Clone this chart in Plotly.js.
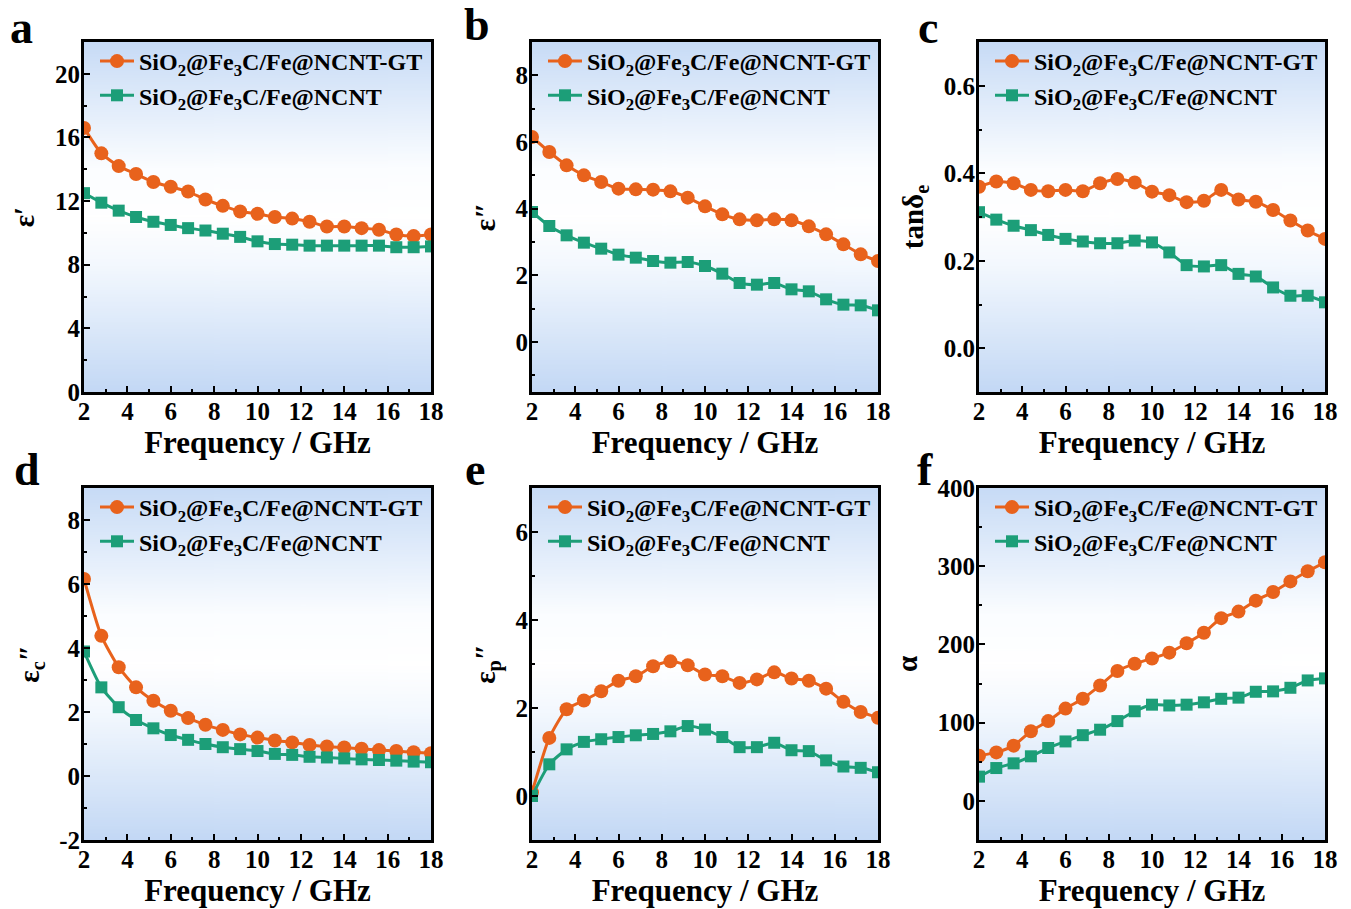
<!DOCTYPE html>
<html>
<head>
<meta charset="utf-8">
<script src="https://cdn.plot.ly/plotly-3.0.1.min.js"></script>
<style>html,body{margin:0;padding:0;background:#fff;}#chart{width:1351px;height:909px;}</style>
</head>
<body>
<div id="chart"></div>
<script>
// ---------------- data ----------------
const freq = [2, 2.8, 3.6, 4.4, 5.2, 6.0, 6.8, 7.6, 8.4, 9.2, 10.0, 10.8, 11.6, 12.4, 13.2, 14.0, 14.8, 15.6, 16.4, 17.2, 18];
const seriesNames = ['SiO<sub>2</sub>@Fe<sub>3</sub>C/Fe@NCNT-GT', 'SiO<sub>2</sub>@Fe<sub>3</sub>C/Fe@NCNT'];

const epsReal_GT = [16.6, 15.0, 14.2, 13.7, 13.2, 12.9, 12.6, 12.1, 11.7, 11.35, 11.2, 11.0, 10.9, 10.7, 10.4, 10.4, 10.3, 10.2, 9.9, 9.8, 9.9];
const epsReal_N  = [12.5, 11.9, 11.4, 11.0, 10.7, 10.5, 10.3, 10.15, 9.95, 9.75, 9.47, 9.3, 9.26, 9.2, 9.2, 9.2, 9.2, 9.2, 9.1, 9.1, 9.15];

const epsImag_GT = [6.15, 5.7, 5.3, 5.0, 4.8, 4.6, 4.58, 4.57, 4.52, 4.33, 4.07, 3.83, 3.68, 3.65, 3.68, 3.65, 3.47, 3.23, 2.93, 2.63, 2.43];
const epsImag_N  = [3.9, 3.48, 3.2, 2.98, 2.8, 2.62, 2.53, 2.43, 2.38, 2.4, 2.28, 2.05, 1.77, 1.72, 1.77, 1.58, 1.52, 1.28, 1.12, 1.1, 0.95];

const tanD_GT = [0.369, 0.381, 0.377, 0.362, 0.359, 0.362, 0.359, 0.377, 0.387, 0.379, 0.358, 0.350, 0.334, 0.337, 0.362, 0.340, 0.335, 0.316, 0.292, 0.269, 0.250];
const tanD_N  = [0.311, 0.294, 0.280, 0.270, 0.259, 0.250, 0.244, 0.240, 0.240, 0.246, 0.242, 0.219, 0.190, 0.187, 0.190, 0.170, 0.164, 0.139, 0.120, 0.120, 0.105];

const epsC_GT = [6.16, 4.38, 3.4, 2.77, 2.35, 2.04, 1.81, 1.6, 1.44, 1.3, 1.2, 1.11, 1.05, 0.97, 0.92, 0.89, 0.85, 0.81, 0.78, 0.74, 0.71];
const epsC_N  = [3.89, 2.77, 2.15, 1.75, 1.49, 1.28, 1.13, 1.0, 0.9, 0.84, 0.78, 0.69, 0.66, 0.6, 0.58, 0.55, 0.52, 0.5, 0.48, 0.45, 0.43];

const epsP_GT = [0.08, 1.32, 1.97, 2.17, 2.38, 2.62, 2.72, 2.95, 3.06, 2.97, 2.76, 2.72, 2.57, 2.65, 2.81, 2.67, 2.62, 2.44, 2.14, 1.91, 1.78];
const epsP_N  = [0.0, 0.72, 1.06, 1.23, 1.29, 1.34, 1.38, 1.41, 1.47, 1.59, 1.51, 1.34, 1.11, 1.11, 1.21, 1.04, 1.02, 0.81, 0.67, 0.64, 0.54];

const alpha_GT = [57.8, 62, 70.6, 89, 102, 118, 130.5, 147.6, 166, 175.4, 182, 189.5, 201.5, 215, 233.6, 242, 256, 267, 280.6, 293.5, 305];
const alpha_N  = [31, 42, 48, 57, 67.6, 76, 84, 91, 102, 114.6, 123, 122, 123, 126, 130.5, 132, 139.5, 140, 144.6, 154, 156.6];

const panelLetters = ['a', 'b', 'c', 'd', 'e', 'f'];
const yTitles = ['ε′', 'ε″', 'tanδ<sub>e</sub>', 'ε<sub>c</sub>″', 'ε<sub>p</sub>″', 'α'];
const xTitle = 'Frequency / GHz';
const xTicks = [2, 4, 6, 8, 10, 12, 14, 16, 18];
const yTickVals = [
  [0, 4, 8, 12, 16, 20],
  [0, 2, 4, 6, 8],
  [0.0, 0.2, 0.4, 0.6],
  [-2, 0, 2, 4, 6, 8],
  [0, 2, 4, 6],
  [0, 100, 200, 300, 400]
];
const yTickText = [
  ['0', '4', '8', '12', '16', '20'],
  ['0', '2', '4', '6', '8'],
  ['0.0', '0.2', '0.4', '0.6'],
  ['-2', '0', '2', '4', '6', '8'],
  ['0', '2', '4', '6'],
  ['0', '100', '200', '300', '400']
];

// ---------------- styling ----------------
const FONT = 'Liberation Serif';
const ORANGE = '#e8621c';
const GREEN = '#1c9e78';

const panels = [
  {gt: epsReal_GT, n: epsReal_N, yr: [0, 22], mdt: 2},
  {gt: epsImag_GT, n: epsImag_N, yr: [-1.5, 9], mdt: 1},
  {gt: tanD_GT, n: tanD_N, yr: [-0.1, 0.7], mdt: 0.1},
  {gt: epsC_GT, n: epsC_N, yr: [-2, 9], mdt: 1},
  {gt: epsP_GT, n: epsP_N, yr: [-1, 7], mdt: 1},
  {gt: alpha_GT, n: alpha_N, yr: [-50, 400], mdt: 50}
];

const W = 1351, H = 909;
const xDom = [[84, 431], [532, 878], [979, 1325]];
const yDom = [[42, 392], [488, 840]];

// gradient background image
const cv = document.createElement('canvas');
cv.width = 4; cv.height = 400;
const cx = cv.getContext('2d');
const g = cx.createLinearGradient(0, 0, 0, 400);
g.addColorStop(0, '#c7dbf6');
g.addColorStop(0.36, '#fbfdff');
g.addColorStop(0.5, '#ffffff');
g.addColorStop(0.64, '#f3f8fe');
g.addColorStop(1, '#c3d8f5');
cx.fillStyle = g; cx.fillRect(0, 0, 4, 400);
const bgURL = cv.toDataURL();

const traces = [];
const layout = {
  width: W, height: H,
  margin: {l: 0, r: 0, t: 0, b: 0},
  paper_bgcolor: '#ffffff',
  plot_bgcolor: 'rgba(0,0,0,0)',
  showlegend: true,
  font: {family: FONT, color: '#000'},
  images: [],
  annotations: []
};

panels.forEach((p, i) => {
  const row = Math.floor(i / 3), col = i % 3;
  const k = i === 0 ? '' : String(i + 1);
  const xa = 'x' + k, ya = 'y' + k;
  const lg = i === 0 ? 'legend' : 'legend' + (i + 1);
  const xd = [xDom[col][0] / W, xDom[col][1] / W];
  const yd = [1 - yDom[row][1] / H, 1 - yDom[row][0] / H];

  traces.push({
    x: freq, y: p.gt, xaxis: xa, yaxis: ya, legend: lg,
    name: seriesNames[0], type: 'scatter', mode: 'lines+markers',
    line: {color: ORANGE, width: 3, shape: 'spline', smoothing: 0.6},
    marker: {symbol: 'circle', size: 14, color: ORANGE}
  });
  traces.push({
    x: freq, y: p.n, xaxis: xa, yaxis: ya, legend: lg,
    name: seriesNames[1], type: 'scatter', mode: 'lines+markers',
    line: {color: GREEN, width: 3, shape: 'spline', smoothing: 0.6},
    marker: {symbol: 'square', size: 12, color: GREEN}
  });

  const axCommon = {
    showline: true, linecolor: '#000', linewidth: 3, mirror: true,
    ticks: 'inside', ticklen: 6, tickwidth: 2, tickcolor: '#000',
    showgrid: false, zeroline: false,
    tickfont: {family: FONT, size: 25, weight: 'bold', color: '#000'}
  };
  layout['xaxis' + k] = Object.assign({}, axCommon, {
    domain: xd, anchor: ya, range: [2, 18],
    tickmode: 'array', tickvals: xTicks, ticktext: xTicks.map(String),
    ticklabelstandoff: -5,
    minor: {dtick: 1, tick0: 2, ticks: 'inside', ticklen: 3, tickwidth: 2, tickcolor: '#000'},
    title: {text: xTitle, font: {family: FONT, size: 31, weight: 'bold', color: '#000'}, standoff: 2}
  });
  layout['yaxis' + k] = Object.assign({}, axCommon, {
    domain: yd, anchor: xa, range: p.yr,
    tickmode: 'array', tickvals: yTickVals[i], ticktext: yTickText[i],
    ticklabelstandoff: -4,
    minor: {dtick: p.mdt, tick0: 0, ticks: 'inside', ticklen: 3, tickwidth: 2, tickcolor: '#000'},
    title: {text: yTitles[i], font: {family: FONT, size: 29, weight: 'bold', color: '#000'}, standoff: 12}
  });
  layout[lg] = {
    x: (xDom[col][0] + 11) / W, y: 1 - (yDom[row][0] - 3) / H,
    xanchor: 'left', yanchor: 'top',
    bgcolor: 'rgba(0,0,0,0)', borderwidth: 0,
    itemwidth: 34, tracegroupgap: 0,
    font: {family: FONT, size: 24, weight: 'bold', color: '#000'}
  };
  layout.images.push({
    source: bgURL, xref: xa + ' domain', yref: ya + ' domain',
    x: 0, y: 1, sizex: 1, sizey: 1, xanchor: 'left', yanchor: 'top',
    sizing: 'stretch', layer: 'below'
  });
  const letterPos = [[22, 27], [477, 25], [928, 27], [27, 470], [475, 470], [925, 470]];
  layout.annotations.push({
    text: panelLetters[i], xref: 'paper', yref: 'paper',
    x: letterPos[i][0] / W, y: 1 - letterPos[i][1] / H,
    xanchor: 'center', yanchor: 'middle', showarrow: false,
    font: {family: FONT, size: 46, weight: 'bold', color: '#000'}
  });
});

Plotly.newPlot('chart', traces, layout, {displayModeBar: false, staticPlot: true});
</script>
</body>
</html>
